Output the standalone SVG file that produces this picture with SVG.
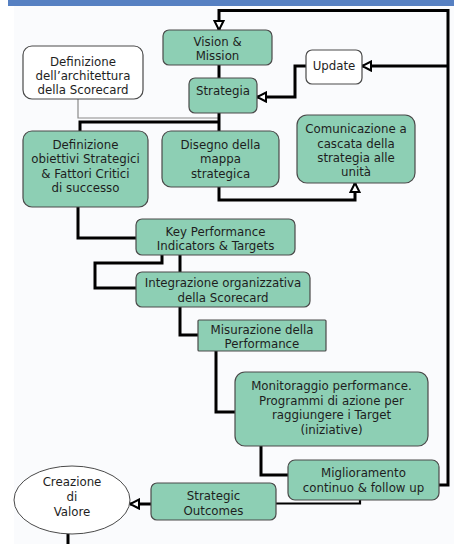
<svg xmlns="http://www.w3.org/2000/svg" width="454" height="544" viewBox="0 0 454 544">
<style>
.box{fill:#8dcfb4;stroke:#4a4a4a;stroke-width:1.2}
.wbox{fill:#ffffff;stroke:#4a4a4a;stroke-width:1.2}
text{font-family:"DejaVu Sans",Verdana,sans-serif;font-size:11.8px;fill:#1e1e1e;text-anchor:middle}
.c{fill:none;stroke:#000;stroke-width:3}
.thin{fill:none;stroke:#8a8a8a;stroke-width:1.2}
</style>
<defs>
<marker id="ah" viewBox="0 0 12 12" refX="10.5" refY="6" markerWidth="12" markerHeight="12" markerUnits="userSpaceOnUse" orient="auto">
<path d="M1.5,1.5 L10.5,6 L1.5,10.5 Z" fill="#fff" stroke="#000" stroke-width="2"/>
</marker>
</defs>
<rect x="0" y="0" width="454" height="544" fill="#ffffff"/>
<rect x="14" y="6" width="440" height="538" fill="#fafbfd"/>
<rect x="8" y="0" width="446" height="6" fill="#5680c2"/>
<g id="connectors">
<path class="thin" d="M78,99 V118 H219"/>
<path class="c" d="M439,485 H448 V10.5 H219 V30" marker-end="url(#ah)"/>
<path class="c" d="M448,66 H362" marker-end="url(#ah)"/>
<path class="c" d="M306,66 H295 V97 H257" marker-end="url(#ah)"/>
<path class="c" d="M219,65 V78"/>
<path class="c" d="M219,113 V131"/>
<path class="c" d="M219,122 H80 V131"/>
<path class="c" d="M219,187 V200 H355 V183" marker-end="url(#ah)"/>
<path class="c" d="M78,207 V238 H136"/>
<path class="c" d="M180,255 V272"/>
<path class="c" d="M162,255 V263 H95 V288 H136"/>
<path class="c" d="M180,307 V335 H198"/>
<path class="c" d="M216,350 V412 H235"/>
<path class="c" d="M261,446 V475 H288"/>
<path class="c" style="stroke-width:2.2" d="M360,500 V503.5 H276"/>
<path class="c" d="M151,504 H130" marker-end="url(#ah)"/>
<path class="c" d="M68,534 V544"/>
</g>
<g id="vision">
<rect class="box" x="163" y="30" width="109" height="35" rx="6"/>
<text x="217.5" y="46">Vision &amp;</text>
<text x="217.5" y="60">Mission</text>
</g>
<g id="architettura">
<rect class="wbox" x="23" y="46" width="120" height="53" rx="9"/>
<text x="83" y="66">Definizione</text>
<text x="83" y="80">dell’architettura</text>
<text x="83" y="94">della Scorecard</text>
</g>
<g id="strategia">
<rect class="box" x="189" y="78" width="68" height="35" rx="6"/>
<text x="223" y="95">Strategia</text>
</g>
<g id="update">
<rect class="wbox" x="306" y="50" width="56" height="34" rx="6"/>
<text x="334" y="70">Update</text>
</g>
<g id="obiettivi">
<rect class="box" x="23" y="131" width="125" height="76" rx="9"/>
<text x="85.5" y="149">Definizione</text>
<text x="85.5" y="163">obiettivi Strategici</text>
<text x="85.5" y="177.5">&amp; Fattori Critici</text>
<text x="85.5" y="192">di successo</text>
</g>
<g id="disegno">
<rect class="box" x="162" y="131" width="117" height="56" rx="9"/>
<text x="220.5" y="149">Disegno della</text>
<text x="220.5" y="163">mappa</text>
<text x="220.5" y="177.5">strategica</text>
</g>
<g id="comunicazione">
<rect class="box" x="297" y="115" width="118" height="68" rx="10"/>
<text x="356" y="133">Comunicazione a</text>
<text x="356" y="148">cascata della</text>
<text x="356" y="162">strategia alle</text>
<text x="356" y="176">unità</text>
</g>
<g id="kpi">
<rect class="box" x="136" y="219" width="159" height="36" rx="6"/>
<text x="215.5" y="236">Key Performance</text>
<text x="215.5" y="250">Indicators &amp; Targets</text>
</g>
<g id="integrazione">
<rect class="box" x="136" y="272" width="174" height="35" rx="6"/>
<text x="223" y="287">Integrazione organizzativa</text>
<text x="223" y="302">della Scorecard</text>
</g>
<g id="misurazione">
<rect class="box" x="198" y="320" width="128" height="31" rx="1"/>
<text x="262" y="334">Misurazione della</text>
<text x="262" y="348">Performance</text>
</g>
<g id="monitoraggio">
<rect class="box" x="235" y="372" width="193" height="74" rx="10"/>
<text x="331.5" y="390">Monitoraggio performance.</text>
<text x="331.5" y="405">Programmi di azione per</text>
<text x="331.5" y="419">raggiungere i Target</text>
<text x="331.5" y="434">(iniziative)</text>
</g>
<g id="miglioramento">
<rect class="box" x="288" y="460" width="151" height="40" rx="7"/>
<text x="363.5" y="477">Miglioramento</text>
<text x="363.5" y="492">continuo &amp; follow up</text>
</g>
<g id="outcomes">
<rect class="box" x="151" y="483" width="125" height="37" rx="6"/>
<text x="213.5" y="500">Strategic</text>
<text x="213.5" y="515">Outcomes</text>
</g>
<g id="creazione">
<ellipse cx="72" cy="500" rx="58" ry="34" fill="#ffffff" stroke="#4a4a4a" stroke-width="1"/>
<text x="72" y="486">Creazione</text>
<text x="72" y="501">di</text>
<text x="72" y="516">Valore</text>
</g>
</svg>
